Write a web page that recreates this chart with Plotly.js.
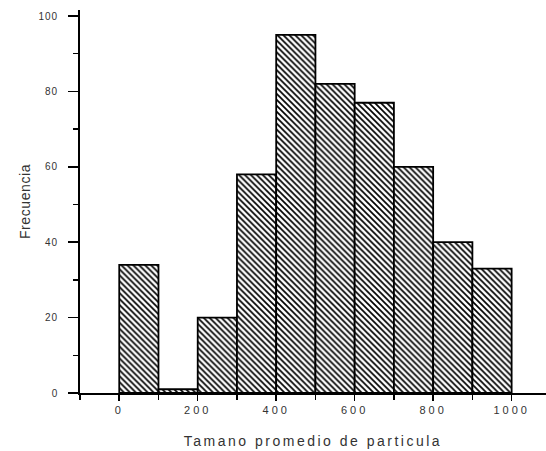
<!DOCTYPE html>
<html>
<head>
<meta charset="utf-8">
<script src="https://cdn.plot.ly/plotly-3.0.1.min.js"></script>
<style>
  html, body { margin: 0; padding: 0; background: #fff; }
  #chart { width: 546px; height: 451px; }
  .xtick text { letter-spacing: 3px; }
  .ytick text { letter-spacing: 1px; }
  .g-xtitle text { letter-spacing: 2.5px; }
  .g-ytitle text { letter-spacing: 0.6px; }
</style>
</head>
<body>
<div id="chart"></div>
<script>
// Histogram of average particle size: bin lower edges (nm) and counts per bin
const binStart = [0, 100, 200, 300, 400, 500, 600, 700, 800, 900];
const binWidth = 100;
const counts = [34, 1, 20, 58, 95, 82, 77, 60, 40, 33];

const xTicks = [0, 200, 400, 600, 800, 1000];
const yTicks = [0, 20, 40, 60, 80, 100];

const binCenter = binStart.map(s => s + binWidth / 2);

const textFont = { family: 'Liberation Sans, Arial, sans-serif', color: '#333' };

const trace = {
  type: 'bar',
  x: binCenter,
  y: counts,
  width: binStart.map(() => binWidth),
  marker: {
    color: 'white',
    line: { color: 'black', width: 1.8 },
    pattern: { shape: '\\', size: 4.2, solidity: 0.4, fgcolor: 'black', bgcolor: 'white' }
  },
  hoverinfo: 'x+y'
};

const layout = {
  width: 546,
  height: 451,
  margin: { l: 80, r: 0, t: 10, b: 58 },
  paper_bgcolor: 'white',
  plot_bgcolor: 'white',
  showlegend: false,
  bargap: 0,
  xaxis: {
    range: [-100, 1087.6],
    tickvals: xTicks,
    ticktext: xTicks.map(String),
    ticks: 'outside',
    ticklen: 6,
    tickwidth: 1.5,
    tickcolor: 'black',
    minor: { dtick: 100, tick0: 0, ticks: 'outside', ticklen: 5, tickwidth: 1.5, tickcolor: 'black' },
    showline: true,
    linecolor: 'black',
    linewidth: 1.8,
    showgrid: false,
    zeroline: false,
    tickfont: Object.assign({ size: 11 }, textFont),
    title: { text: 'Tamano promedio de particula', font: Object.assign({ size: 14 }, textFont) }
  },
  yaxis: {
    range: [0, 101.6],
    tickvals: yTicks,
    ticktext: yTicks.map(String),
    ticks: 'outside',
    ticklen: 10,
    tickwidth: 1.5,
    tickcolor: 'black',
    ticklabelstandoff: 8,
    minor: { dtick: 10, tick0: 0, ticks: 'outside', ticklen: 5, tickwidth: 1.5, tickcolor: 'black' },
    showline: true,
    linecolor: 'black',
    linewidth: 1.8,
    showgrid: false,
    zeroline: false,
    automargin: true,
    tickfont: Object.assign({ size: 10 }, textFont),
    title: { text: 'Frecuencia', standoff: 5, font: Object.assign({ size: 14 }, textFont) }
  }
};

Plotly.newPlot('chart', [trace], layout, { displayModeBar: false, staticPlot: true });
</script>
</body>
</html>
